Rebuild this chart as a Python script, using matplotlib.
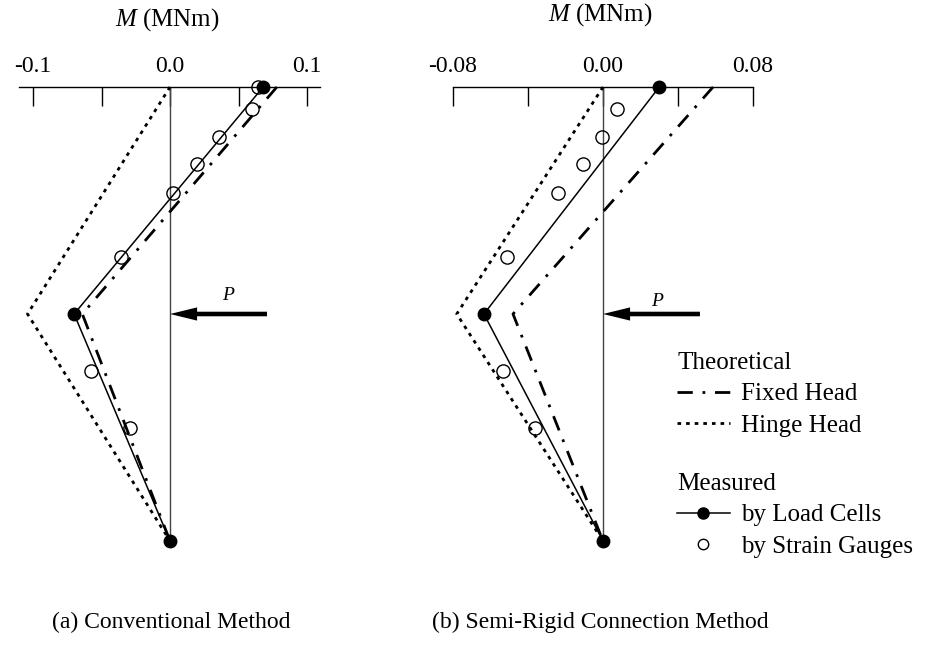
import matplotlib
matplotlib.use("Agg")
import matplotlib.pyplot as plt
from matplotlib.lines import Line2D

plt.rcParams['font.family'] = ['Liberation Serif', 'DejaVu Serif']
plt.rcParams['mathtext.fontset'] = 'custom'
plt.rcParams['mathtext.rm'] = 'Liberation Serif'
plt.rcParams['mathtext.it'] = 'Liberation Serif:italic'

# ---------------- data ----------------
node_depth = [0.0, 1.0, 2.0]          # pile head, load level, bottom (normalised)
load_depth = 1.0

# (a) Conventional method
a_load_cells = [0.068, -0.070, 0.0]
a_fixed = [0.078, -0.064, 0.0]
a_hinge = [0.0, -0.104, 0.0]
a_gauge_depth = [0.0, 0.095, 0.22, 0.34, 0.465, 0.75, 1.25, 1.50]
a_gauge_M = [0.064, 0.060, 0.036, 0.020, 0.002, -0.036, -0.058, -0.029]
a_ticks = [-0.1, -0.05, 0.0, 0.05, 0.1]
a_ticklabels = ['-0.1', '', '0.0', '', '0.1']

# (b) Semi-rigid connection method
b_load_cells = [0.030, -0.0635, 0.0]
b_fixed = [0.0587, -0.048, 0.0]
b_hinge = [0.0, -0.078, 0.0]
b_gauge_depth = [0.095, 0.22, 0.34, 0.465, 0.75, 1.25, 1.50]
b_gauge_M = [0.0075, -0.0005, -0.0107, -0.024, -0.0512, -0.0533, -0.0363]
b_ticks = [-0.08, -0.04, 0.0, 0.04, 0.08]
b_ticklabels = ['-0.08', '', '0.00', '', '0.08']

captions = ['(a) Conventional Method', '(b) Semi-Rigid Connection Method']

# ---------------- figure ----------------
W, H = 930, 655
fig = plt.figure(figsize=(W / 100, H / 100), dpi=100)

PXD = 227.0  # pixels per depth unit
top_px, bot_px = 87, 560


def make_ax(x0_px, x1_px, zero_px, ppu):
    ax = fig.add_axes([x0_px / W, 1 - bot_px / H, (x1_px - x0_px) / W, (bot_px - top_px) / H])
    ax.set_xlim((x0_px - zero_px) / ppu, (x1_px - zero_px) / ppu)
    ax.set_ylim((bot_px - top_px) / PXD, 0)
    ax.patch.set_alpha(0)
    for s in ['left', 'right', 'bottom']:
        ax.spines[s].set_visible(False)
    ax.spines['top'].set_linewidth(1.0)
    ax.set_yticks([])
    return ax


dash_dot = (0, (5.5, 3.5, 1.0, 3.5))
dotted = (0, (1.3, 1.8))

ax_a = make_ax(5, 345, 170, 1370.0)
ax_b = make_ax(420, 790, 603, 1875.0)

panels = [
    (ax_a, a_load_cells, a_fixed, a_hinge, a_gauge_depth, a_gauge_M, a_ticks, a_ticklabels,
     (-0.1102, 0.1095), 0.0708, (0.0423, 0.92)),
    (ax_b, b_load_cells, b_fixed, b_hinge, b_gauge_depth, b_gauge_M, b_ticks, b_ticklabels,
     (-0.08, 0.08), 0.0517, (0.0288, 0.945)),
]

for (ax, lc, fx, hg, gd, gm, ticks, tlabels, bounds, arrow_start, ptxt) in panels:
    ax.spines['top'].set_bounds(*bounds)
    ax.xaxis.set_ticks_position('top')
    ax.set_xticks(ticks)
    ax.set_xticklabels(tlabels)
    ax.tick_params(axis='x', direction='in', length=14, width=1.0, pad=7,
                   labelsize=17, top=True, bottom=False)
    # pile axis
    ax.plot([0, 0], [node_depth[0], node_depth[-1]], color='#444444', lw=1.0, zorder=2)
    ax.plot(fx, node_depth, color='black', lw=2.0, linestyle=dash_dot, clip_on=False, zorder=3)
    ax.plot(hg, node_depth, color='black', lw=2.0, linestyle=dotted, clip_on=False, zorder=3)
    ax.plot(lc, node_depth, color='black', lw=1.1, marker='o', markersize=9,
            markerfacecolor='black', markeredgecolor='black', clip_on=False, zorder=4)
    ax.plot(gm, gd, linestyle='none', marker='o', markersize=9.5, markerfacecolor='none',
            markeredgecolor='black', markeredgewidth=1.0, clip_on=False, zorder=5)
    ax.annotate('', xy=(0, load_depth), xytext=(arrow_start, load_depth),
                arrowprops=dict(arrowstyle='simple,head_length=1.95,head_width=0.95,tail_width=0.33',
                                lw=0, color='black', shrinkA=0, shrinkB=0))
    ax.text(ptxt[0], ptxt[1], 'P', fontsize=14, style='italic', ha='center', va='center')

fig.text(167 / W, 1 - 20 / H, r'$M$ (MNm)', fontsize=18, ha='center', va='center')
fig.text(600 / W, 1 - 15 / H, r'$M$ (MNm)', fontsize=18, ha='center', va='center')
fig.text(171 / W, 1 - 622 / H, captions[0], fontsize=17, ha='center', va='center')
fig.text(600 / W, 1 - 622 / H, captions[1], fontsize=17, ha='center', va='center')

# legends
h_fixed = Line2D([], [], color='black', lw=2.0, linestyle=dash_dot)
h_hinge = Line2D([], [], color='black', lw=2.0, linestyle=dotted)
h_lc = Line2D([], [], color='black', lw=1.1, marker='o', markersize=8, markerfacecolor='black')
h_sg = Line2D([], [], linestyle='none', marker='o', markersize=7.5, markerfacecolor='none',
              markeredgecolor='black', markeredgewidth=1.0)

common = dict(frameon=False, fontsize=18, title_fontsize=18, handlelength=2.1,
              handletextpad=0.45, labelspacing=0.36, borderpad=0, borderaxespad=0,
              alignment='left')
leg1 = fig.legend([h_fixed, h_hinge], ['Fixed Head', 'Hinge Head'], title='Theoretical',
                  loc='upper left', bbox_to_anchor=(677 / W, 1 - 352 / H), **common)
leg2 = fig.legend([h_lc, h_sg], ['by Load Cells', 'by Strain Gauges'], title='Measured',
                  loc='upper left', bbox_to_anchor=(677 / W, 1 - 473 / H), **common)

fig.savefig('out.png', dpi=100)
